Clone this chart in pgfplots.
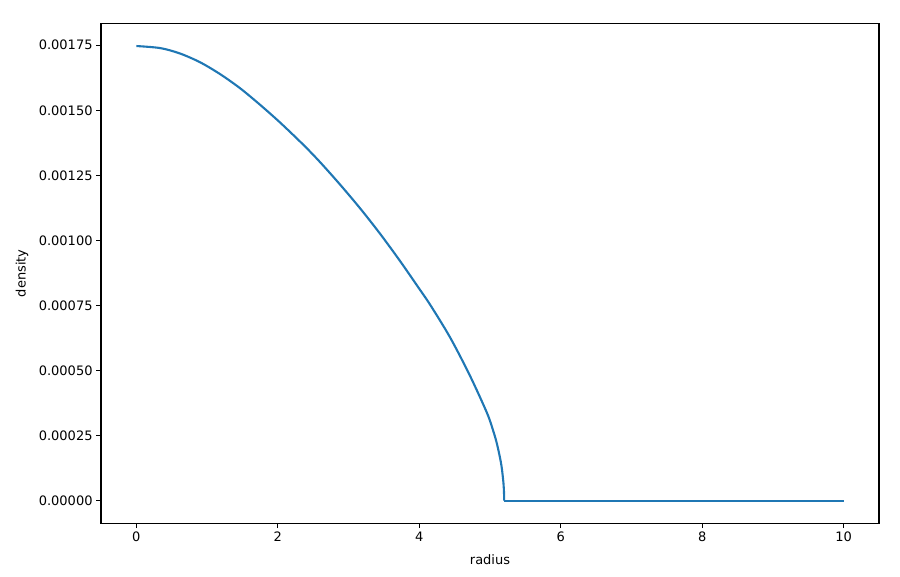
\documentclass[border=0pt]{standalone}
\usepackage{pgfplots}
\pgfplotsset{compat=1.18}
\usepackage{fontspec}
\setmainfont{DejaVu Sans}
\definecolor{mplblue}{HTML}{1F77B4}
\begin{document}
\begin{tikzpicture}
\begin{axis}[
  scale only axis,
  width=778pt, height=500pt,
  xmin=-0.5, xmax=10.5,
  ymin=-0.0000874, ymax=0.0018344,
  xtick={0,2,4,6,8,10},
  ytick={0,0.00025,0.0005,0.00075,0.001,0.00125,0.0015,0.00175},
  scaled y ticks=false,
  yticklabel style={/pgf/number format/.cd, fixed, fixed zerofill, precision=5},
  /pgf/number format/assume math mode=true,
  tick label style={font=\fontsize{13}{15}\selectfont},
  tick align=outside,
  xtick pos=left, ytick pos=left,
  major tick length=4.9pt,
  axis line style={line width=1.1pt, black},
  every tick/.style={line width=1.1pt, black},
  xlabel={radius}, ylabel={density},
  every axis x label/.style={at={(axis description cs:0.5,0)}, anchor=center, yshift=-36pt, font=\fontsize{13}{15}\selectfont},
  every axis y label/.style={at={(axis description cs:0,0.5)}, xshift=-79pt, rotate=90, anchor=center, font=\fontsize{13}{15}\selectfont},
]
\addplot[mplblue, line width=2.1pt, smooth] coordinates {
(0,0.001747) (0.34,0.001739) (0.62,0.001718) (0.905,0.001684) (1.19,0.001638)
(1.47,0.001584) (1.75,0.001521) (2.04,0.001451) (2.37,0.001365) (2.60,0.001300)
(2.885,0.001213) (3.17,0.001121) (3.45,0.001024) (3.73,0.000920) (3.99,0.000818)
(4.16,0.000750) (4.44,0.000625) (4.72,0.000478) (4.96,0.000335) (5.05,0.000264)
(5.1,0.000216) (5.15,0.000153) (5.17,0.000118) (5.19,0.000068) (5.198,0.000031) (5.2,0)
};
\addplot[mplblue, line width=2.1pt] coordinates {(5.2,0) (10,0)};
\end{axis}
\pgfresetboundingbox
\useasboundingbox (-101pt,-53.7pt) rectangle (799pt,523.3pt);
\end{tikzpicture}
\end{document}
